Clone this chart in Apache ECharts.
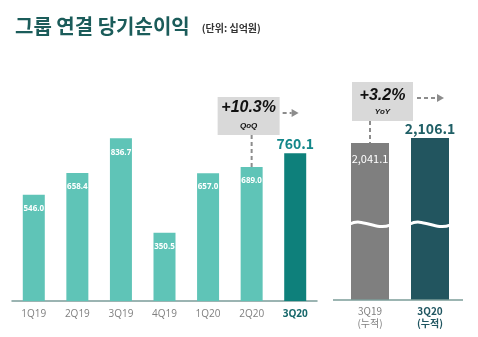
<!DOCTYPE html>
<html>
<head>
<meta charset="utf-8">
<script src="https://cdn.jsdelivr.net/npm/echarts@6/dist/echarts.min.js"></script>
<style>
html,body{margin:0;padding:0;background:#fff;}
#chart{width:478px;height:337px;}
</style>
</head>
<body>
<div id="chart"></div>
<script>
// Quarterly consolidated net income (KRW bn)
const quarters = ['1Q19', '2Q19', '3Q19', '4Q19', '1Q20', '2Q20', '3Q20'];
const quarterValues = [546.0, 658.4, 836.7, 350.5, 657.0, 689.0, 760.1];
// Cumulative (1Q~3Q) comparison
const cumCategories = ['3Q19\n(누적)', '3Q20\n(누적)'];
const cumValues = [2041.1, 2106.1];
const qoqText = '+10.3%';
const yoyText = '+3.2%';

const FONT = '"Noto Sans CJK KR", "Noto Sans", sans-serif';
const NUM = '"Open Sans", "Noto Sans CJK KR", sans-serif';
const LIGHT = '#5fc4b7';
const TEAL = '#0e807b';
const GRAY = '#7f7f7f';
const DARK = '#22555f';

const chart = echarts.init(document.getElementById('chart'));

const qData = quarterValues.map((v, i) => {
  const last = i === quarterValues.length - 1;
  return {
    value: v,
    itemStyle: { color: last ? TEAL : LIGHT },
    label: last ? {
      position: 'top', distance: 2, color: '#13878a', fontSize: 14, fontWeight: 'bold', fontFamily: FONT
    } : {}
  };
});

const cData = cumValues.map((v, i) => ({
  value: v,
  itemStyle: { color: i === 0 ? GRAY : DARK },
  label: i === 0 ? {
    position: 'insideTop', distance: 10, color: '#fff', fontSize: 11
  } : {
    position: 'top', distance: 2, color: '#1f5f66', fontSize: 14, fontWeight: 'bold'
  }
}));

const fmt = p => p.value.toLocaleString('en-US', { minimumFractionDigits: 1, maximumFractionDigits: 1 });

chart.setOption({
  animation: false,
  textStyle: { fontFamily: FONT },
  title: {
    left: 10, top: 11,
    text: '{a|그룹 연결 당기순이익} {b|(단위: 십억원)}',
    textStyle: {
      rich: {
        a: { fontSize: 20, fontWeight: 'bold', color: '#1b5c5a', fontFamily: FONT },
        b: { fontSize: 10, color: '#333', fontFamily: FONT, padding: [5, 0, 0, 8] }
      }
    }
  },
  grid: [
    { left: 12, width: 305, top: 80, bottom: 36 },
    { left: 340, width: 120, top: 80, bottom: 37 }
  ],
  xAxis: [
    {
      gridIndex: 0, type: 'category', data: quarters,
      axisLine: { lineStyle: { color: '#7b9c99', width: 1.5 } },
      axisTick: { show: false },
      axisLabel: {
        interval: 0, margin: 8, fontSize: 10, color: '#7f7f7f', fontFamily: NUM,
        formatter: (v, i) => i === quarters.length - 1 ? '{h|' + v + '}' : v,
        rich: { h: { fontSize: 10, fontWeight: 'bold', color: '#17686b', fontFamily: NUM } }
      }
    },
    {
      gridIndex: 1, type: 'category', data: cumCategories,
      axisLine: { show: false },
      axisTick: { show: false },
      axisLabel: {
        interval: 0, margin: 5, fontSize: 10, color: '#7f7f7f', lineHeight: 12, fontFamily: FONT,
        formatter: (v, i) => i === 1 ? v.split('\n').map(s => '{h|' + s + '}').join('\n') : v,
        rich: { h: { fontSize: 10, fontWeight: 'bold', color: '#1f5560', lineHeight: 12, fontFamily: FONT } }
      }
    }
  ],
  yAxis: [
    { gridIndex: 0, type: 'value', min: 0, max: 1136, show: false },
    { gridIndex: 1, type: 'value', min: 0, max: 2860, show: false }
  ],
  series: [
    {
      type: 'bar', xAxisIndex: 0, yAxisIndex: 0, barWidth: 22,
      data: qData,
      label: {
        show: true, position: 'insideTop', distance: 10, color: '#fff',
        fontSize: 8, fontWeight: 'bold', fontFamily: NUM, formatter: fmt
      }
    },
    {
      type: 'bar', xAxisIndex: 1, yAxisIndex: 1, barWidth: 38,
      data: cData,
      label: { show: true, fontFamily: FONT, formatter: fmt }
    }
  ]
});

// Annotations anchored to bar positions
function buildGraphics() {
  const g = [];
  const dash = { stroke: '#8c8c8c', lineWidth: 2, lineDash: [4, 3] };
  const arrowHead = (x, y) => ({
    type: 'polygon', shape: { points: [[x, y - 4], [x + 7, y], [x, y + 4]] },
    style: { fill: '#8c8c8c' }, z: 20
  });

  // cumulative axis line
  const base = chart.convertToPixel({ yAxisIndex: 1 }, 0);
  g.push({ type: 'line', shape: { x1: 333, y1: base, x2: 463, y2: base },
    style: { stroke: '#7b9c99', lineWidth: 1.5 }, z: 20 });

  // QoQ box above 2Q20
  const p2q = chart.convertToPixel({ seriesIndex: 0 }, [5, quarterValues[5]]);
  const bx = p2q[0] - 34, by = 97, bw = 62, bh = 38;
  g.push({ type: 'line', shape: { x1: p2q[0], y1: by + bh, x2: p2q[0], y2: p2q[1] }, style: dash, z: 19 });
  g.push({ type: 'rect', shape: { x: bx, y: by, width: bw, height: bh }, style: { fill: '#d9d9d9' }, z: 20 });
  g.push({ type: 'text', x: bx + bw / 2, y: by + 11, style: { text: qoqText, fontSize: 16, fontWeight: 'bold', fontStyle: 'italic', fill: '#111', align: 'center', verticalAlign: 'middle', fontFamily: '"Liberation Sans", Arial, sans-serif' }, z: 21 });
  g.push({ type: 'text', x: bx + bw / 2, y: by + 29, style: { text: 'QoQ', fontSize: 8, fontWeight: 'bold', fontStyle: 'italic', fill: '#111', align: 'center', verticalAlign: 'middle', fontFamily: '"Liberation Sans", Arial, sans-serif' }, z: 21 });
  g.push({ type: 'line', shape: { x1: bx + bw + 3, y1: by + 16, x2: bx + bw + 12, y2: by + 16 }, style: dash, z: 20 });
  g.push(arrowHead(bx + bw + 12, by + 16));

  // YoY box above cumulative bars
  const c0 = chart.convertToPixel({ seriesIndex: 1 }, [0, cumValues[0]]);
  const c1 = chart.convertToPixel({ seriesIndex: 1 }, [1, cumValues[1]]);
  const yx = c0[0] - 18, yy = 82, yw = 61, yh = 39;
  g.push({ type: 'line', shape: { x1: c0[0], y1: yy + yh, x2: c0[0], y2: c0[1] }, style: dash, z: 19 });
  g.push({ type: 'rect', shape: { x: yx, y: yy, width: yw, height: yh }, style: { fill: '#d9d9d9' }, z: 20 });
  g.push({ type: 'text', x: yx + yw / 2, y: yy + 14, style: { text: yoyText, fontSize: 16, fontWeight: 'bold', fontStyle: 'italic', fill: '#111', align: 'center', verticalAlign: 'middle', fontFamily: '"Liberation Sans", Arial, sans-serif' }, z: 21 });
  g.push({ type: 'text', x: yx + yw / 2, y: yy + 30, style: { text: 'YoY', fontSize: 8, fontWeight: 'bold', fontStyle: 'italic', fill: '#111', align: 'center', verticalAlign: 'middle', fontFamily: '"Liberation Sans", Arial, sans-serif' }, z: 21 });
  g.push({ type: 'line', shape: { x1: yx + yw + 4, y1: yy + 16, x2: yx + yw + 24, y2: yy + 16 }, style: dash, z: 20 });
  g.push(arrowHead(yx + yw + 24, yy + 16));

  // axis-break waves across the cumulative bars
  const waveY = chart.convertToPixel({ yAxisIndex: 1 }, 1000);
  [c0[0], c1[0]].forEach(cx => {
    const x0 = cx - 20, x1 = cx + 20;
    g.push({
      type: 'bezierCurve',
      shape: { x1: x0, y1: waveY + 1, cpx1: x0 + 12, cpy1: waveY - 6, cpx2: x1 - 14, cpy2: waveY + 8, x2: x1, y2: waveY + 2 },
      style: { stroke: '#fff', lineWidth: 3, fill: null }, z: 20
    });
  });
  return g;
}

chart.setOption({ graphic: buildGraphics() });
</script>
</body>
</html>
